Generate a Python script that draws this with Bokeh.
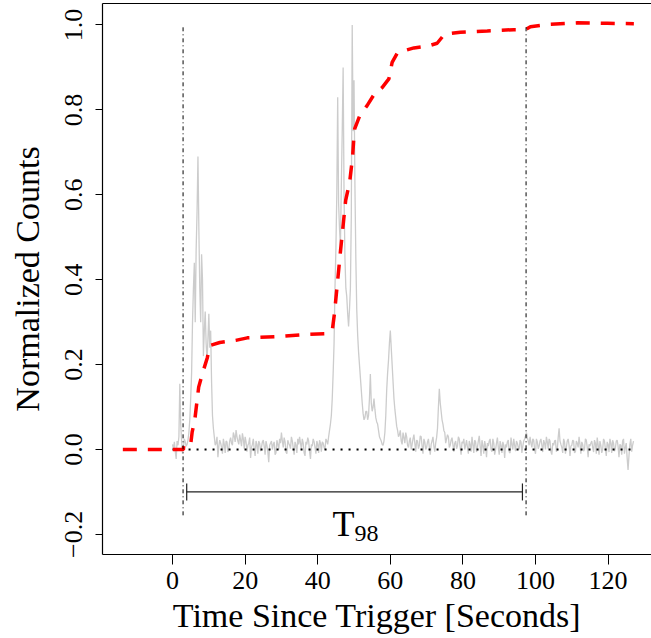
import numpy as np
from bokeh.plotting import figure
from bokeh.models import Range1d, FixedTicker, LinearAxis, Arrow, TeeHead
from bokeh.core.properties import value
from bokeh.embed import file_html
from bokeh.resources import INLINE

# ---------------- data ----------------
# normalized light curve, read at 0.00, 0.50, 1.00 ... 127.0 s
lc_step = 0.5
lc_counts = [
    0.012, 0.018, -0.022, 0.010, 0.155, 0.020, 0.005, 0.018, 0.012, 0.040,
    0.120, 0.300, 0.440, 0.470, 0.690, 0.380, 0.460, 0.220, 0.325, 0.210,
    0.320, 0.280, 0.080, 0.030, 0.015, -0.018, 0.022, 0.005, 0.025, -0.008,
    0.018, 0.002, 0.028, 0.010, 0.032, 0.046, 0.020, 0.035, 0.008, 0.025,
    0.030, -0.005, 0.015, -0.020, 0.012, 0.000, 0.020, -0.010, 0.015, 0.005,
    0.022, -0.012, 0.010, -0.030, 0.015, 0.000, 0.018, -0.008, 0.012, 0.025,
    0.040, 0.005, 0.018, -0.010, 0.015, 0.002, 0.020, -0.012, 0.010, 0.025,
    0.030, 0.000, 0.015, -0.015, 0.012, 0.020, -0.022, 0.008, 0.018, -0.010,
    0.012, 0.022, -0.005, 0.015, 0.000, 0.020, 0.030, 0.060, 0.120, 0.250,
    0.470, 0.830, 0.520, 0.620, 0.900, 0.450, 0.360, 0.290, 0.380, 1.000,
    0.870, 0.450, 0.270, 0.200, 0.140, 0.085, 0.075, 0.090, 0.080, 0.178,
    0.090, 0.120, 0.075, 0.060, 0.030, 0.020, 0.010, 0.040, 0.140, 0.210,
    0.280, 0.200, 0.120, 0.075, 0.045, 0.035, 0.020, 0.040, 0.015, 0.030,
    0.005, 0.028, 0.012, 0.035, -0.005, 0.020, 0.010, 0.030, -0.010, 0.018,
    0.005, 0.025, -0.012, 0.020, 0.008, 0.015, 0.050, 0.143, 0.090, 0.060,
    0.040, 0.025, 0.030, 0.010, 0.028, -0.005, 0.020, 0.008, 0.025, -0.012,
    0.015, 0.000, 0.022, -0.010, 0.012, 0.030, -0.008, 0.018, 0.005, 0.032,
    -0.015, 0.010, 0.020, -0.018, 0.008, 0.025, -0.005, 0.015, 0.000, 0.028,
    -0.012, 0.010, 0.018, -0.020, 0.005, 0.022, -0.008, 0.012, 0.025, -0.004,
    0.015, 0.000, 0.018, 0.008, 0.025, 0.040, 0.020, 0.030, 0.005, 0.022,
    -0.010, 0.018, 0.008, 0.025, -0.006, 0.015, 0.030, 0.002, 0.020, -0.012,
    0.010, 0.022, 0.000, 0.050, 0.012, -0.008, 0.018, 0.005, 0.025, -0.015,
    0.010, 0.020, -0.005, 0.015, 0.030, -0.010, 0.012, 0.000, 0.022, -0.018,
    0.008, 0.020, -0.006, 0.015, 0.028, -0.012, 0.010, 0.000, 0.020, -0.015,
    0.012, 0.025, -0.008, 0.015, 0.002, 0.022, -0.018, 0.010, 0.020, -0.010,
    0.015, -0.048, 0.012, -0.005, 0.020,
]
# the same light curve read at 0.25, 0.75, 1.25 ... 126.75 s
lc_counts_mid = [
    0.000, -0.005, 0.020, 0.030, 0.060, -0.010, 0.025, 0.008, 0.022, 0.070,
    0.180, 0.380, 0.300, 0.560, 0.520, 0.300, 0.400, 0.280, 0.250, 0.260,
    0.240, 0.160, 0.050, 0.010, 0.030, 0.008, 0.015, -0.010, 0.012, 0.020,
    -0.006, 0.020, 0.015, 0.040, 0.018, 0.030, 0.012, 0.022, 0.038, 0.002,
    0.018, 0.010, 0.028, 0.005, 0.025, -0.015, 0.012, 0.020, -0.004, 0.018,
    0.008, 0.020, -0.005, 0.010, 0.020, 0.012, -0.012, 0.022, 0.000, 0.015,
    0.020, 0.028, -0.006, 0.022, 0.010, 0.030, 0.004, 0.018, -0.008, 0.012,
    0.015, 0.025, -0.008, 0.018, 0.028, -0.005, 0.012, 0.025, 0.005, 0.020,
    -0.008, 0.015, 0.018, 0.005, 0.025, 0.012, 0.045, 0.080, 0.180, 0.380,
    0.600, 0.580, 0.480, 0.750, 0.600, 0.380, 0.320, 0.330, 0.550, 0.750,
    0.620, 0.330, 0.230, 0.170, 0.110, 0.070, 0.090, 0.070, 0.120, 0.110,
    0.100, 0.095, 0.065, 0.045, 0.025, 0.012, 0.020, 0.080, 0.180, 0.250,
    0.240, 0.160, 0.095, 0.055, 0.030, 0.045, 0.012, 0.028, 0.040, 0.010,
    0.020, 0.000, 0.025, 0.015, 0.022, 0.002, 0.032, 0.008, 0.025, 0.000,
    0.018, 0.005, 0.012, 0.030, -0.005, 0.028, 0.100, 0.110, 0.070, 0.045,
    0.015, 0.035, 0.005, 0.022, 0.012, 0.015, 0.002, 0.030, 0.005, 0.018,
    0.025, 0.010, 0.005, 0.020, -0.005, 0.012, 0.022, -0.006, 0.020, 0.008,
    0.022, -0.010, 0.008, 0.015, 0.020, 0.000, 0.025, -0.012, 0.015, 0.005,
    0.020, -0.008, 0.010, 0.012, 0.018, -0.006, 0.028, 0.000, 0.010, 0.020,
    0.005, 0.022, -0.008, 0.020, 0.032, 0.028, 0.010, 0.015, 0.025, 0.000,
    0.025, 0.002, 0.020, 0.010, 0.022, 0.000, 0.018, 0.025, -0.005, 0.015,
    0.020, -0.005, 0.028, 0.020, 0.005, 0.025, -0.010, 0.020, 0.010, 0.008,
    0.022, -0.008, 0.020, 0.005, 0.012, 0.018, -0.004, 0.025, 0.005, 0.012,
    0.015, 0.005, 0.022, -0.010, 0.012, 0.020, -0.008, 0.025, 0.002, 0.018,
    -0.006, 0.015, 0.022, -0.004, 0.020, 0.008, 0.012, -0.012, 0.025, 0.005,
    -0.020, -0.015, 0.025, 0.010,
]
lc_pairs = sorted([(i * lc_step, c) for i, c in enumerate(lc_counts)] +
                  [(0.25 + i * lc_step, c) for i, c in enumerate(lc_counts_mid)])
lc_time = [t for t, _ in lc_pairs]
lc_all = [c for _, c in lc_pairs]

# cumulative normalized counts (red dashed curve)
cum_time = [-13.7, 3.0, 3.1, 5.0, 5.4, 6.1, 7.2, 8.2, 9.6, 10.3, 13.0, 17.4, 20.6,
            28.8, 37.1, 42.1, 44.0, 44.6, 45.4, 46.3, 47.7, 48.8, 49.6, 49.9, 50.2,
            51.6, 53.6, 55.5, 57.8, 59.6, 60.5, 62.0, 66.5, 70.2, 72.9, 74.9, 79.3,
            86.7, 94.0, 97.2, 98.6, 103.2, 111.5, 119.8, 127.1]
cum_frac = [0.0, 0.0, 0.012, 0.012, 0.041, 0.068, 0.147, 0.178, 0.217, 0.245, 0.252,
            0.257, 0.263, 0.266, 0.271, 0.2725, 0.28, 0.32, 0.39, 0.47, 0.587, 0.630,
            0.689, 0.728, 0.756, 0.787, 0.810, 0.836, 0.853, 0.873, 0.912, 0.935,
            0.946, 0.950, 0.957, 0.978, 0.983, 0.986, 0.989, 0.989, 0.996, 1.001,
            1.005, 1.004, 1.003]

# T98 interval
t98_start = 2.9
t98_end = 97.4
t98_marker_y = [-0.155, 1.0]
t98_bracket_x = [3.9, 96.4]
t98_bracket_y = -0.1
t98_label_y = -0.175

x_ticks = [0, 20, 40, 60, 80, 100, 120]
x_tick_labels = ["0", "20", "40", "60", "80", "100", "120"]
y_ticks = [-0.2, 0.0, 0.2, 0.4, 0.6, 0.8, 1.0]
y_tick_labels = ["\u22120.2", "0.0", "0.2", "0.4", "0.6", "0.8", "1.0"]

FONT = "Liberation Serif"

# ---------------- figure ----------------
p = figure(width=651, height=638,
           x_range=Range1d(-19.3, 131.96), y_range=Range1d(-0.2473, 1.0506),
           output_backend="svg", toolbar_location=None,
           min_border_left=102, min_border_right=0, min_border_top=3, min_border_bottom=84)
p.outline_line_color = None
p.grid.visible = False
p.background_fill_color = "white"
p.border_fill_color = "white"

# light curve
p.line(lc_time, lc_all, line_color="#cccccc", line_width=1.3)

# zero line
p.line([lc_time[0], lc_time[-1]], [0, 0], line_color="black", line_width=1.8, line_dash="2 6")

# cumulative curve
p.line(cum_time, cum_frac, line_color="#ff0000", line_width=3.5, line_dash="14 11")

# T98 start / end markers
p.line([t98_start, t98_start], t98_marker_y, line_color="black", line_width=1, line_dash="4 3 1 3")
p.line([t98_end, t98_end], t98_marker_y, line_color="black", line_width=1, line_dash="4 3 1 3")

# bracket
p.add_layout(Arrow(start=TeeHead(size=17, line_color="#222222", line_width=1.2),
                   end=TeeHead(size=17, line_color="#222222", line_width=1.2),
                   x_start=t98_bracket_x[0], y_start=t98_bracket_y,
                   x_end=t98_bracket_x[1], y_end=t98_bracket_y,
                   line_color="#222222", line_width=1.2))

mid = (t98_start + t98_end) / 2
p.text(x=[mid], y=[t98_label_y], text=["T"], text_font=value(FONT), text_font_size="36px",
       text_align="right", text_baseline="alphabetic", text_color="black")
p.text(x=[mid], y=[t98_label_y], text=["98"], text_font=value(FONT), text_font_size="24px",
       text_align="left", text_baseline="alphabetic", text_color="black", y_offset=10)

# axes
xa = p.xaxis[0]
xa.ticker = FixedTicker(ticks=x_ticks)
xa.major_label_overrides = {t: l for t, l in zip(x_ticks, x_tick_labels)}
xa.axis_label = "Time Since Trigger [Seconds]"
ya = p.yaxis[0]
ya.ticker = FixedTicker(ticks=y_ticks)
ya.major_label_overrides = {t: l for t, l in zip(y_ticks, y_tick_labels)}
ya.axis_label = "Normalized Counts"
ya.major_label_orientation = "vertical"

for ax in (xa, ya):
    ax.axis_line_color = "black"
    ax.axis_line_width = 1.2
    ax.major_tick_line_color = "black"
    ax.major_tick_in = 0
    ax.minor_tick_line_color = None
    ax.major_label_text_font = FONT
    ax.major_label_text_font_size = "26px"
    ax.major_label_text_color = "black"
    ax.axis_label_text_font = FONT
    ax.axis_label_text_font_size = "34px"
    ax.axis_label_text_font_style = "normal"
    ax.axis_label_text_color = "black"

xa.major_tick_out = 10
xa.major_label_standoff = 7
xa.axis_label_standoff = 5
ya.major_tick_out = 7
ya.major_label_standoff = 13
ya.axis_label_standoff = 17

top = LinearAxis(ticker=FixedTicker(ticks=[]), major_tick_out=0, major_tick_in=0,
                 minor_tick_out=0, minor_tick_in=0, major_label_standoff=0,
                 axis_label_standoff=0, major_label_text_font_size="0px",
                 axis_line_color="black", axis_line_width=1.2)
p.add_layout(top, "above")

open("out.html", "w").write(file_html(p, INLINE))
